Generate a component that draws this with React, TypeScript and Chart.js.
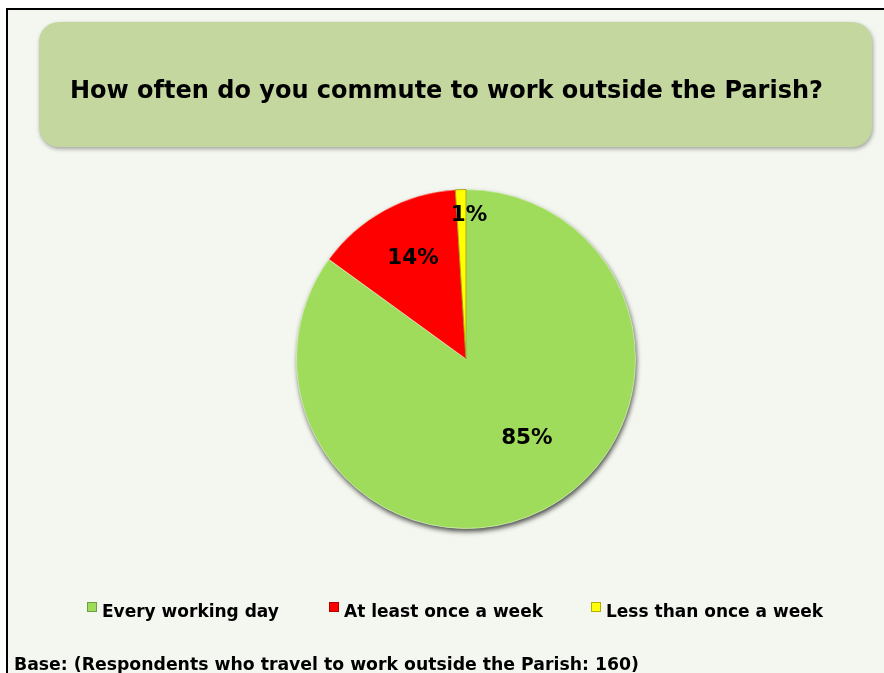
import React, { useEffect, useRef } from 'react';
import { Chart, registerables } from 'chart.js';

Chart.register(...registerables);

const categories = ['Every working day', 'At least once a week', 'Less than once a week'];
const values = [85, 14, 1];
const valueLabels = ['85%', '14%', '1%'];
const colors = ['#9fdc5b', '#ff0000', '#ffff00'];
const edgeColors = ['#6f9e3f', '#b00000', '#b0b000'];
const titleText = 'How often do you commute to work outside the Parish?';
const footerText = 'Base: (Respondents who travel to work outside the Parish: 160)';

const FONT = '"DejaVu Sans", Verdana, sans-serif';
const W = 884;
const H = 673;

const decorPlugin = {
  id: 'decor',
  beforeDraw(chart: any) {
    const ctx = chart.ctx as CanvasRenderingContext2D;
    ctx.save();
    ctx.fillStyle = '#ffffff';
    ctx.fillRect(0, 0, W, H);
    ctx.fillStyle = '#f4f7ef';
    ctx.fillRect(7, 9, W, H);
    ctx.strokeStyle = '#000000';
    ctx.lineWidth = 2;
    ctx.beginPath();
    ctx.moveTo(7, H + 5);
    ctx.lineTo(7, 9);
    ctx.lineTo(W + 5, 9);
    ctx.stroke();

    const bx = 39, by = 22, bw = 833, bh = 125, br = 20;
    ctx.save();
    ctx.shadowColor = 'rgba(0,0,0,0.35)';
    ctx.shadowBlur = 4;
    ctx.shadowOffsetX = 1;
    ctx.shadowOffsetY = 2;
    ctx.fillStyle = '#c4d79f';
    ctx.beginPath();
    (ctx as any).roundRect(bx, by, bw, bh, br);
    ctx.fill();
    ctx.restore();

    ctx.fillStyle = '#000000';
    ctx.font = `bold 24px ${FONT}`;
    ctx.textAlign = 'left';
    ctx.textBaseline = 'alphabetic';
    ctx.fillText(titleText, 70, 98);

    const lx = [87, 329, 591];
    ctx.font = `bold 17px ${FONT}`;
    categories.forEach((c, i) => {
      ctx.fillStyle = colors[i];
      ctx.fillRect(lx[i], 602, 10, 10);
      ctx.strokeStyle = edgeColors[i];
      ctx.lineWidth = 1;
      ctx.strokeRect(lx[i] + 0.5, 602.5, 9, 9);
      ctx.fillStyle = '#000000';
      ctx.fillText(c, lx[i] + 15, 617);
    });

    ctx.font = `bold 17.3px ${FONT}`;
    ctx.fillText(footerText, 14, 670);
    ctx.restore();
  },
  beforeDatasetsDraw(chart: any) {
    const meta = chart.getDatasetMeta(0);
    const arc = meta.data[0];
    if (!arc) return;
    const ctx = chart.ctx as CanvasRenderingContext2D;
    ctx.save();
    ctx.shadowColor = 'rgba(0,0,0,0.7)';
    ctx.shadowBlur = 5;
    ctx.shadowOffsetX = 1;
    ctx.shadowOffsetY = 3;
    ctx.fillStyle = colors[0];
    ctx.beginPath();
    ctx.arc(arc.x, arc.y, arc.outerRadius, 0, Math.PI * 2);
    ctx.fill();
    ctx.restore();
  },
  afterDatasetsDraw(chart: any, _args: any, opts: any) {
    const meta = chart.getDatasetMeta(0);
    const ctx = chart.ctx as CanvasRenderingContext2D;
    ctx.save();
    ctx.fillStyle = '#000000';
    ctx.font = `bold 21.5px ${FONT}`;
    ctx.textAlign = 'center';
    ctx.textBaseline = 'middle';
    meta.data.forEach((el: any, i: number) => {
      const mid = (el.startAngle + el.endAngle) / 2 + (opts.angleShift[i] * Math.PI) / 180;
      const r = el.outerRadius * opts.radius[i];
      ctx.fillText(valueLabels[i], el.x + Math.cos(mid) * r, el.y + Math.sin(mid) * r);
    });
    ctx.restore();
  },
};

export default function App() {
  const ref = useRef<HTMLCanvasElement | null>(null);
  useEffect(() => {
    document.body.style.margin = '0';
    const canvas = ref.current;
    if (!canvas) return;
    const chart = new Chart(canvas, {
      type: 'pie',
      data: {
        labels: categories,
        datasets: [
          {
            data: values,
            backgroundColor: colors,
            borderColor: ['rgba(255,255,255,0.45)', 'rgba(255,255,255,0.45)', 'rgba(120,120,0,0.6)'],
            borderWidth: 1,
          },
        ],
      },
      options: {
        responsive: false,
        maintainAspectRatio: false,
        animation: false,
        devicePixelRatio: 1,
        layout: { padding: { left: 296, right: 248, top: 189, bottom: 144 } },
        plugins: {
          legend: { display: false },
          title: { display: false },
          tooltip: { enabled: false },
          decor: { radius: [0.59, 0.67, 0.845], angleShift: [-10.5, 1, 3] },
        } as any,
      },
      plugins: [decorPlugin],
    });
    return () => chart.destroy();
  }, []);
  return <canvas ref={ref} width={W} height={H} style={{ display: 'block', width: W, height: H }} />;
}
